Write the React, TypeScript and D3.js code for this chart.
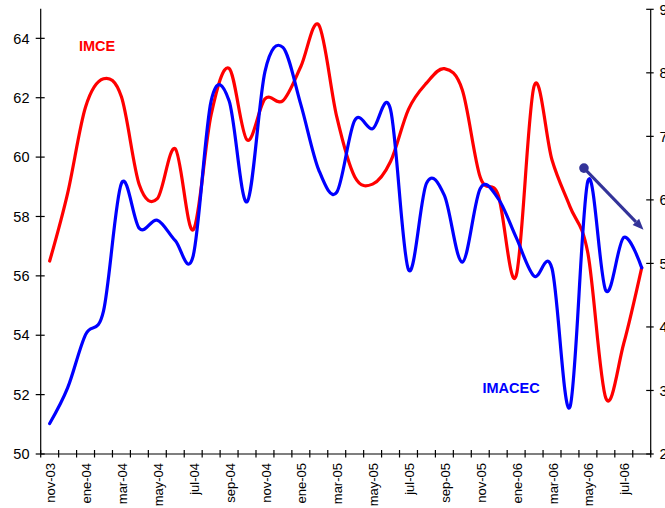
import React from "react";
import * as d3 from "d3";

const months = ["nov-03","dic-03","ene-04","feb-04","mar-04","abr-04","may-04","jun-04","jul-04","ago-04","sep-04","oct-04","nov-04","dic-04","ene-05","feb-05","mar-05","abr-05","may-05","jun-05","jul-05","ago-05","sep-05","oct-05","nov-05","dic-05","ene-06","feb-06","mar-06","abr-06","may-06","jun-06","jul-06","ago-06"];

// IMCE (left axis)
const imce = [56.5, 58.78, 61.69, 62.64, 62.03, 59.06, 58.6, 60.28, 57.55, 61.43, 62.99, 60.58, 61.96, 61.9, 63.05, 64.45, 61.36, 59.34, 59.09, 59.85, 61.61, 62.49, 62.98, 62.26, 59.32, 58.72, 56.0, 62.39, 59.9, 58.33, 56.76, 51.88, 53.73, 56.28];

// IMACEC (right axis)
const imacec = [2.48, 3.04, 3.88, 4.25, 6.26, 5.55, 5.68, 5.36, 5.12, 7.56, 7.56, 5.97, 8.02, 8.4, 7.5, 6.47, 6.12, 7.25, 7.12, 7.42, 4.9, 6.26, 6.07, 5.02, 6.18, 6.02, 5.41, 4.8, 4.92, 2.74, 6.3, 4.57, 5.41, 4.93];

const leftTicks = [50, 52, 54, 56, 58, 60, 62, 64];
const rightTicks = [2, 3, 4, 5, 6, 7, 8, 9];
const labelEvery = 2;

// arrow annotation in data terms: [month index position, right-axis value]
const arrowStart = [29.78, 6.5];
const arrowEnd = [33.1, 5.53];

const W = 665, H = 508;
const X0 = 40.7, X1 = 650.7, YB = 454;
const FONT = "'Liberation Sans', Arial, sans-serif";

export default function App() {
  const x = d3.scaleBand<string>().domain(months).range([X0, X1]).padding(0);
  const bw = x.bandwidth();
  const cx = (i: number) => (x(months[i]) as number) + bw / 2;
  const cxf = (f: number) => X0 + (f + 0.5) * bw;
  const yL = d3.scaleLinear().domain([50, 65]).range([YB, YB - 15 * 29.69]);
  const yR = d3.scaleLinear().domain([2, 9]).range([YB, 9.3]);

  const lineL = d3.line<number>().x((_, i) => cx(i)).y((d) => yL(d)).curve(d3.curveCardinal.tension(0));
  const lineR = d3.line<number>().x((_, i) => cx(i)).y((d) => yR(d)).curve(d3.curveCardinal.tension(0));

  const ax0 = cxf(arrowStart[0]), ay0 = yR(arrowStart[1]);
  const ax1 = cxf(arrowEnd[0]), ay1 = yR(arrowEnd[1]);
  const ang = Math.atan2(ay1 - ay0, ax1 - ax0);
  const hl = 11, hw = 4.5;
  const bx = ax1 - hl * Math.cos(ang), by = ay1 - hl * Math.sin(ang);
  const head = [
    [ax1, ay1],
    [bx + hw * Math.sin(ang), by - hw * Math.cos(ang)],
    [bx - hw * Math.sin(ang), by + hw * Math.cos(ang)],
  ].map((p) => p.join(",")).join(" ");

  const boundaries = d3.range(months.length + 1).map((i) => X0 + i * bw);

  return (
    <svg width={W} height={H} style={{ position: "absolute", left: 0, top: 0, background: "#fff" }} fontFamily={FONT}>
      <rect x={0} y={0} width={W} height={H} fill="#fff" />
      {/* left axis */}
      <line x1={X0} x2={X0} y1={yL(65)} y2={YB} stroke="#000" strokeWidth={1.2} />
      {leftTicks.map((t) => (
        <g key={"l" + t}>
          <line x1={X0 - 5} x2={X0 + 4} y1={yL(t)} y2={yL(t)} stroke="#000" strokeWidth={1.2} />
          <text x={29.5} y={yL(t)} dy="0.36em" textAnchor="end" fontSize={14.5} fill="#000">{t}</text>
        </g>
      ))}
      {/* right axis */}
      <line x1={X1} x2={X1} y1={yR(9)} y2={YB} stroke="#000" strokeWidth={1.2} />
      {rightTicks.map((t) => (
        <g key={"r" + t}>
          <line x1={X1 - 4.5} x2={X1 + 3} y1={yR(t)} y2={yR(t)} stroke="#000" strokeWidth={1.2} />
          <text x={659.5} y={yR(t)} dy="0.36em" textAnchor="start" fontSize={14.5} fill="#000">{t}</text>
        </g>
      ))}
      {/* x axis */}
      <line x1={X0} x2={X1} y1={YB} y2={YB} stroke="#000" strokeWidth={1.2} />
      {boundaries.map((bx2, i) => (
        <line key={"t" + i} x1={bx2} x2={bx2} y1={YB - 4} y2={YB + 3.5} stroke="#000" strokeWidth={1.2} />
      ))}
      {months.map((m, i) =>
        i % labelEvery === 0 ? (
          <text key={m} transform={`translate(${cx(i) + 1},463) rotate(-90)`} dy="0.35em" textAnchor="end" fontSize={13} fill="#000">{m}</text>
        ) : null
      )}
      {/* series */}
      <path d={lineL(imce) as string} fill="none" stroke="#FF0000" strokeWidth={3.2} strokeLinejoin="round" strokeLinecap="round" />
      <path d={lineR(imacec) as string} fill="none" stroke="#0000FF" strokeWidth={3.2} strokeLinejoin="round" strokeLinecap="round" />
      {/* labels */}
      <text x={79} y={50.5} fontSize={14.5} fontWeight="bold" fill="#FF0000">IMCE</text>
      <text x={482.5} y={393} fontSize={14.5} fontWeight="bold" fill="#0000FF">IMACEC</text>
      {/* arrow */}
      <line x1={ax0} y1={ay0} x2={bx} y2={by} stroke="#333399" strokeWidth={3} />
      <polygon points={head} fill="#333399" />
      <circle cx={ax0} cy={ay0} r={4.8} fill="#333399" />
    </svg>
  );
}
